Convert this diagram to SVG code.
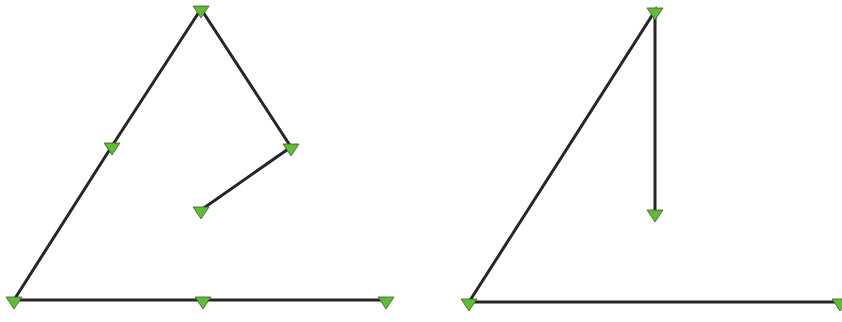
<svg xmlns="http://www.w3.org/2000/svg" width="842" height="322" viewBox="0 0 842 322">
<style>
.ln{fill:none;stroke:#262626;stroke-width:3;stroke-linejoin:miter;marker-start:url(#v);marker-mid:url(#v);marker-end:url(#v)}
</style>
<defs>
<marker id="v" markerUnits="userSpaceOnUse" orient="0" markerWidth="20" markerHeight="16" refX="10" refY="5" viewBox="0 0 20 16" overflow="visible">
<path d="M2,2 L18,2 L10,14 Z" fill="#5fbd35" stroke="#3d5a30" stroke-width="0.8" stroke-linejoin="round"/>
</marker>
</defs>
<rect width="842" height="322" fill="#ffffff"/>
<g id="connectors">
<g id="shape-left">
<polyline class="ln" points="201,210 291,147 201,9 112,146 14,300 203,300 386,300"/>
</g>
<g id="shape-right">
<polyline class="ln" points="655,213 655,11 469,302 840,302"/>
</g>
</g>
</svg>
